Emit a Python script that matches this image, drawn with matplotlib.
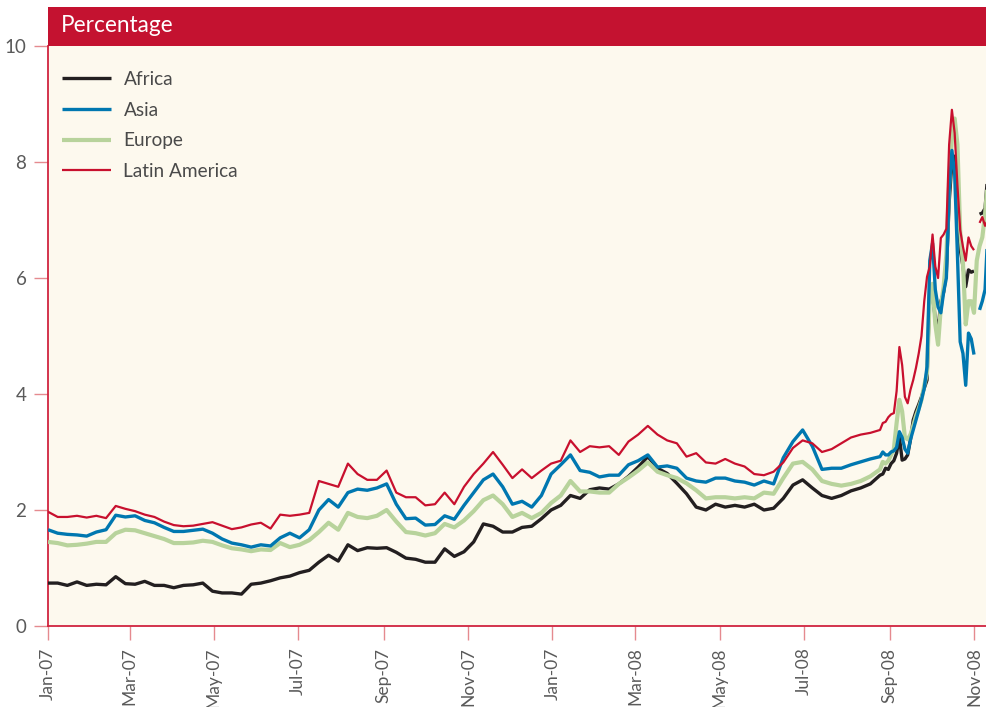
import numpy as np
import pandas as pd
import matplotlib
matplotlib.use("Agg")
import matplotlib.pyplot as plt
from matplotlib.patches import Rectangle

plt.rcParams['font.family'] = ['Lato', 'DejaVu Sans']

nan = np.nan

# ---- dates: weekly up to late Aug 2008, then every 2 days ----
weekly_dates = pd.date_range('2007-01-01', periods=87, freq='7D')
end_dates = pd.date_range('2008-08-27', periods=39, freq='2D')
dates = weekly_dates.append(end_dates)

# ---- series values (percent) ----
africa_weekly = [0.74, 0.74, 0.70, 0.76, 0.70, 0.72, 0.71, 0.85, 0.73, 0.72,
                 0.77, 0.70, 0.70, 0.66, 0.70, 0.71, 0.74, 0.60, 0.57, 0.57,
                 0.55, 0.72, 0.74, 0.78, 0.83, 0.86, 0.92, 0.96, 1.10, 1.22,
                 1.12, 1.40, 1.30, 1.35, 1.34, 1.35, 1.27, 1.17, 1.15, 1.10,
                 1.10, 1.33, 1.20, 1.28, 1.45, 1.76, 1.72, 1.62, 1.62, 1.70,
                 1.72, 1.85, 2.00, 2.08, 2.25, 2.20, 2.35, 2.38, 2.36, 2.45,
                 2.58, 2.74, 2.92, 2.72, 2.63, 2.46, 2.28, 2.05, 2.00, 2.10,
                 2.05, 2.08, 2.05, 2.10, 2.00, 2.03, 2.20, 2.43, 2.52, 2.38,
                 2.25, 2.20, 2.25, 2.33, 2.38, 2.45, 2.60]
africa_end = [2.62, 2.72, 2.70, 2.80, 2.85, 2.98, 3.26, 2.86, 2.88, 2.95,
              3.21, 3.55, 3.70, 3.82, 3.95, 4.10, 4.24, 5.80, 5.70, 5.30,
              5.10, 5.60, 5.75, 6.10, 7.30, 8.00, 8.10, 7.40, 6.50, 6.20,
              5.85, 6.14, 6.10, 6.12, nan, 7.10, 7.12, 7.20, 7.80]

asia_weekly = [1.66, 1.60, 1.58, 1.57, 1.55, 1.62, 1.66, 1.91, 1.88, 1.90,
               1.82, 1.78, 1.70, 1.63, 1.63, 1.65, 1.67, 1.60, 1.50, 1.43,
               1.40, 1.36, 1.40, 1.38, 1.52, 1.60, 1.52, 1.66, 2.00, 2.18,
               2.05, 2.30, 2.36, 2.34, 2.38, 2.45, 2.10, 1.85, 1.86, 1.74,
               1.75, 1.90, 1.84, 2.08, 2.30, 2.52, 2.62, 2.40, 2.10, 2.15,
               2.05, 2.25, 2.62, 2.78, 2.95, 2.68, 2.65, 2.57, 2.60, 2.60,
               2.78, 2.85, 2.95, 2.74, 2.76, 2.72, 2.55, 2.50, 2.48, 2.55,
               2.55, 2.50, 2.48, 2.43, 2.50, 2.45, 2.90, 3.18, 3.38, 3.10,
               2.70, 2.72, 2.72, 2.78, 2.83, 2.88, 2.92]
asia_end = [3.00, 2.95, 2.95, 3.00, 3.02, 3.08, 3.35, 3.25, 3.05, 2.98,
            3.21, 3.38, 3.55, 3.72, 3.90, 4.10, 4.47, 6.30, 6.60, 5.80,
            5.50, 5.40, 5.75, 6.00, 7.50, 8.20, 7.80, 6.40, 4.90, 4.70,
            4.15, 5.05, 4.95, 4.68, nan, 5.45, 5.60, 5.80, 6.80]

europe_weekly = [1.45, 1.43, 1.39, 1.40, 1.42, 1.45, 1.45, 1.60, 1.66, 1.65,
                 1.60, 1.55, 1.50, 1.43, 1.43, 1.44, 1.47, 1.45, 1.39, 1.34,
                 1.32, 1.29, 1.32, 1.31, 1.43, 1.36, 1.40, 1.48, 1.62, 1.78,
                 1.66, 1.95, 1.88, 1.86, 1.90, 2.00, 1.80, 1.62, 1.60, 1.56,
                 1.60, 1.76, 1.70, 1.82, 1.98, 2.17, 2.25, 2.10, 1.88, 1.95,
                 1.86, 1.95, 2.12, 2.25, 2.50, 2.32, 2.32, 2.30, 2.30, 2.45,
                 2.56, 2.68, 2.82, 2.66, 2.60, 2.55, 2.46, 2.34, 2.20, 2.22,
                 2.22, 2.20, 2.22, 2.20, 2.30, 2.28, 2.55, 2.80, 2.83, 2.70,
                 2.50, 2.45, 2.42, 2.45, 2.50, 2.58, 2.70]
europe_end = [2.83, 2.80, 2.85, 2.95, 3.05, 3.50, 3.90, 3.70, 3.25, 3.22,
              3.30, 3.45, 3.62, 3.75, 3.90, 4.15, 4.36, 5.70, 5.90, 5.20,
              4.85, 5.50, 5.85, 6.40, 7.60, 8.40, 8.75, 8.30, 6.80, 6.26,
              5.20, 5.60, 5.60, 5.40, 6.30, 6.55, 6.70, 7.10, 7.70]

latam_weekly = [1.97, 1.88, 1.88, 1.90, 1.87, 1.90, 1.86, 2.07, 2.02, 1.98,
                1.92, 1.88, 1.80, 1.74, 1.72, 1.73, 1.76, 1.79, 1.73, 1.67,
                1.70, 1.75, 1.78, 1.68, 1.92, 1.90, 1.92, 1.95, 2.50, 2.45,
                2.40, 2.80, 2.62, 2.52, 2.52, 2.68, 2.30, 2.22, 2.22, 2.08,
                2.10, 2.30, 2.10, 2.40, 2.62, 2.80, 3.00, 2.78, 2.55, 2.70,
                2.55, 2.68, 2.80, 2.85, 3.20, 3.00, 3.10, 3.08, 3.10, 2.95,
                3.18, 3.30, 3.45, 3.30, 3.20, 3.15, 2.92, 2.98, 2.82, 2.80,
                2.88, 2.80, 2.75, 2.62, 2.60, 2.66, 2.82, 3.07, 3.20, 3.15,
                3.00, 3.05, 3.15, 3.25, 3.30, 3.33, 3.38]
latam_end = [3.50, 3.52, 3.60, 3.65, 3.67, 4.05, 4.81, 4.50, 3.95, 3.84,
             4.07, 4.24, 4.45, 4.70, 5.00, 5.60, 6.02, 6.20, 6.75, 6.20,
             6.00, 6.69, 6.75, 6.85, 8.30, 8.90, 8.50, 7.60, 6.83, 6.54,
             6.30, 6.70, 6.55, 6.48, nan, 6.95, 7.05, 6.90, 7.00]

series_names = ['Africa', 'Asia', 'Europe', 'Latin America']
series_values = [africa_weekly + africa_end, asia_weekly + asia_end,
                 europe_weekly + europe_end, latam_weekly + latam_end]
series_colors = ['#231F20', '#0077B0', '#B8D39C', '#C8102E']
series_widths = [2.4, 2.4, 3.0, 1.6]
series_z = [3, 4, 3.5, 5]

tick_dates = pd.to_datetime(['2007-01-01', '2007-03-01', '2007-05-01', '2007-07-01',
                             '2007-09-01', '2007-11-01', '2008-01-01', '2008-03-01',
                             '2008-05-01', '2008-07-01', '2008-09-01', '2008-11-01'])
tick_labels = ['Jan-07', 'Mar-07', 'May-07', 'Jul-07', 'Sep-07', 'Nov-07',
               'Jan-07', 'Mar-08', 'May-08', 'Jul-08', 'Sep-08', 'Nov-08']
y_ticks = [0, 2, 4, 6, 8, 10]

W, H = 987, 707
fig = plt.figure(figsize=(W / 100, H / 100), dpi=100)
ax = fig.add_axes([48 / W, 1 - 626 / H, 939 / W, 580 / H])
ax.set_facecolor('#FDF9EE')

for name, vals, col, lw, z in zip(series_names, series_values, series_colors,
                                  series_widths, series_z):
    ax.plot(dates, vals, color=col, lw=lw, label=name, zorder=z,
            solid_joinstyle='round', solid_capstyle='butt')

ax.set_ylim(0, 10)
ax.set_xlim(pd.Timestamp('2007-01-01'), pd.Timestamp('2007-01-01') + pd.Timedelta(days=679.4))
ax.set_yticks(y_ticks)
ax.set_yticklabels([str(v) for v in y_ticks])
ax.set_xticks(tick_dates)
ax.set_xticklabels(tick_labels, rotation=90)

for s in ['top', 'right']:
    ax.spines[s].set_visible(False)
for s in ['left', 'bottom']:
    ax.spines[s].set_color('#D0243F')
    ax.spines[s].set_linewidth(1.3)

ax.tick_params(axis='both', length=10, width=1.0, color='#E58A8F',
               labelcolor='#5A5A5A')
ax.tick_params(axis='y', pad=5.5, labelsize=13.5)
ax.tick_params(axis='x', pad=5.5, labelsize=12.5)

leg = ax.legend(loc='upper left', bbox_to_anchor=(14 / 939, (626 - 71) / 580),
                frameon=False, fontsize=13.7, handlelength=2.55, handletextpad=0.68,
                labelspacing=0.72, borderpad=0, borderaxespad=0)
for t in leg.get_texts():
    t.set_color('#4A4A4A')

# header bar
fig.patches.append(Rectangle((48 / W, 1 - 46 / H), 939 / W, 39 / H,
                             transform=fig.transFigure, facecolor='#C41230',
                             edgecolor='none', zorder=1))
fig.text(61 / W, 1 - 26 / H, 'Percentage', color='white', fontsize=16.3,
         ha='left', va='center')

fig.savefig('out.png', dpi=100, facecolor='white')
